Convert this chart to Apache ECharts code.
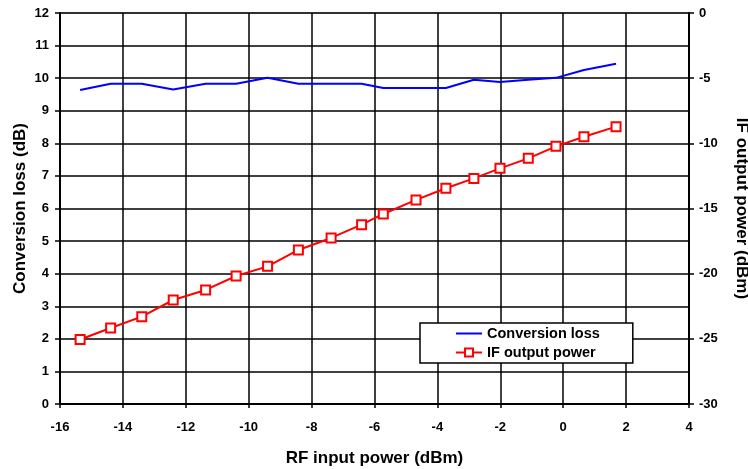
<!DOCTYPE html>
<html>
<head>
<meta charset="utf-8">
<script src="https://cdn.jsdelivr.net/npm/echarts@6/dist/echarts.min.js"></script>
<style>
  html, body { margin: 0; padding: 0; background: #fff; }
  #chart { width: 748px; height: 469px; }
</style>
</head>
<body>
<div id="chart"></div>
<script>
  // RF input power (dBm)
  var rfInput = [-15.36, -14.39, -13.40, -12.40, -11.37, -10.40, -9.40, -8.42, -7.38, -6.41,
                 -5.72, -4.68, -3.73, -2.84, -2.01, -1.11, -0.23, 0.66, 1.68];
  // Conversion loss (dB), left axis
  var convLoss = [9.64, 9.83, 9.83, 9.65, 9.83, 9.83, 10.01, 9.83, 9.83, 9.83,
                  9.70, 9.70, 9.70, 9.95, 9.88, 9.95, 10.01, 10.25, 10.44];
  // IF output power (dBm), right axis
  var ifOutput = [-25.05, -24.17, -23.30, -22.02, -21.25, -20.18, -19.44, -18.18, -17.26, -16.24,
                  -15.42, -14.34, -13.45, -12.69, -11.92, -11.15, -10.23, -9.49, -8.72];

  var font = 'Liberation Sans, Arial, sans-serif';

  var myChart = echarts.init(document.getElementById('chart'));

  var lossData = rfInput.map(function (x, i) { return [x, convLoss[i]]; });
  var ifData = rfInput.map(function (x, i) { return [x, ifOutput[i]]; });

  var option = {
    animation: false,
    backgroundColor: '#fff',
    grid: {
      left: 60, right: 59, top: 13, bottom: 65,
      containLabel: false,
      outerBoundsMode: 'none',
      show: true, borderColor: '#9c7b7b', borderWidth: 1
    },
    legend: {
      orient: 'vertical',
      left: 420, top: 323,
      padding: [3, 33, 3, 35],
      itemGap: 4,
      itemWidth: 26, itemHeight: 10,
      backgroundColor: '#fff',
      borderColor: '#000', borderWidth: 1.5,
      textStyle: { fontFamily: font, fontWeight: 'bold', fontSize: 14.5, color: '#000' },
      data: [
        { name: 'Conversion loss', icon: 'path://M0,4 L26,4 L26,6 L0,6 Z' }, // 只显示线，不要圆点
        'IF output power'
      ]
    },
    xAxis: {
      type: 'value',
      min: -16, max: 4, interval: 2,
      name: 'RF input power (dBm)',
      nameLocation: 'middle',
      nameGap: 46,
      nameTextStyle: { fontFamily: font, fontWeight: 'bold', fontSize: 17, color: '#000' },
      axisLine: { onZero: false, lineStyle: { color: '#000', width: 2 } },
      axisTick: { show: true, inside: false, length: 4, lineStyle: { color: '#000', width: 1.5 } },
      axisLabel: { margin: 17, fontFamily: font, fontWeight: 'bold', fontSize: 13, color: '#000' },
      splitLine: { show: true, lineStyle: { color: '#000', width: 1.5 } }
    },
    yAxis: [{
      type: 'value',
      position: 'left',
      min: 0, max: 12, interval: 1,
      name: 'Conversion loss (dB)',
      nameLocation: 'middle',
      nameGap: 31,
      nameMoveOverlap: false,
      nameTextStyle: { fontFamily: font, fontWeight: 'bold', fontSize: 17, color: '#000' },
      axisLine: { show: true, onZero: false, lineStyle: { color: '#000', width: 2 } },
      axisTick: { show: true, inside: false, length: 5, lineStyle: { color: '#000', width: 1.5 } },
      axisLabel: { margin: 11, fontFamily: font, fontWeight: 'bold', fontSize: 13, color: '#000' },
      splitLine: { show: true, lineStyle: { color: '#000', width: 1.5 } }
    }, {
      type: 'value',
      position: 'right',
      min: -30, max: 0, interval: 5,
      name: 'IF output power (dBm)',
      nameLocation: 'middle',
      nameGap: 44,
      nameRotate: -90,
      nameTextStyle: { fontFamily: font, fontWeight: 'bold', fontSize: 17, color: '#000' },
      axisLine: { show: true, onZero: false, lineStyle: { color: '#000', width: 2 } },
      axisTick: { show: true, inside: false, length: 5, lineStyle: { color: '#000', width: 1.5 } },
      axisLabel: { margin: 10, fontFamily: font, fontWeight: 'bold', fontSize: 13, color: '#000' },
      splitLine: { show: false }
    }],
    series: [{
      name: 'Conversion loss',
      type: 'line',
      yAxisIndex: 0,
      data: lossData,
      symbol: 'none',
      color: '#0000ff',
      lineStyle: { color: '#0000ff', width: 2 }
    }, {
      name: 'IF output power',
      type: 'line',
      yAxisIndex: 1,
      data: ifData,
      symbol: 'rect',
      symbolSize: 9,
      color: '#ff0000',
      lineStyle: { color: '#ff0000', width: 2 },
      itemStyle: { color: '#fff', borderColor: '#ff0000', borderWidth: 2 }
    }]
  };

  myChart.setOption(option);
</script>
</body>
</html>
